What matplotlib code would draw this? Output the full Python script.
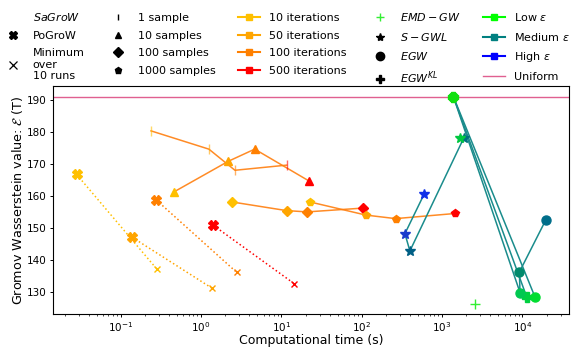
import matplotlib
matplotlib.use('Agg')
import matplotlib.pyplot as plt
from matplotlib.lines import Line2D

# PoGroW single run and minimum over 10 runs, one value per iteration count
iter_labels = ['10 iterations', '50 iterations', '100 iterations', '500 iterations']
pogrow_time = [0.0282, 0.138, 0.277, 1.42]
pogrow_gw = [166.8, 147.2, 158.8, 150.9]
min_time = [0.282, 1.38, 2.78, 14.4]
min_gw = [137.2, 131.2, 136.2, 132.7]

# SaGroW, one list per number of samples (10, 50, 100, 500 iterations)
sample_labels = ['1 sample', '10 samples', '100 samples', '1000 samples']
sag1_time = [0.238, 1.25, 2.64, 11.6]
sag1_gw = [180.4, 174.7, 168.1, 169.7]
sag10_time = [0.456, 2.18, 4.65, 21.9]
sag10_gw = [161.3, 170.9, 174.7, 164.8]
sag100_time = [2.43, 11.6, 21.0, 105]
sag100_gw = [158.2, 155.5, 155.1, 156.3]
sag1000_time = [22.7, 113, 264, 1452]
sag1000_gw = [158.2, 154.1, 153.0, 154.6]

# entropic methods
sgwl_time = [597, 345, 398, 1875, 1671]
sgwl_gw = [160.6, 148.3, 142.9, 178.3, 178.3]
egw_time = [1384, 9360, 9180, 19700]
egw_gw = [191.1, 129.9, 136.3, 152.7]
egw2_time = [1384, 14380]
egw2_gw = [191.1, 128.5]
egwkl_time = [1384, 11350]
egwkl_gw = [191.1, 128.5]
emd_time = [2573]
emd_gw = [126.2]
uniform_gw = 191.0

# styles
iter_colors = ['#ffc000', '#ffa500', '#ff8000', '#ff0000']
sample_markers = ['|', '^', 'D', 'p']
sample_ms = [7, 6, 5, 6]
sgwl_colors = ['#1030e8', '#1a3ccc', '#005f85', '#00707f', '#00c840']
egw_colors = ['#10e010', '#00c850', '#008a6c', '#006e8a']
egw2_colors = ['#10e010', '#00dd30']
egwkl_colors = ['#10e010', '#00d040']
eps_colors = ['#00ff00', '#008080', '#0000ff']
line_teal = '#1a8c8c'

fig = plt.figure(figsize=(5.76, 3.47), dpi=100)
ax = fig.add_axes([0.0915, 0.095, 0.8965, 0.657])

ax.axhline(uniform_gw, color='#e06090', lw=1.0, zorder=1)

# PoGroW -> min over runs
for i in range(4):
    ax.plot([pogrow_time[i], min_time[i]], [pogrow_gw[i], min_gw[i]], ':',
            color=iter_colors[i], lw=1.1, zorder=2)
    ax.plot(pogrow_time[i], pogrow_gw[i], 'X', color=iter_colors[i], ms=6.5, zorder=4)
    ax.plot(min_time[i], min_gw[i], 'x', color=iter_colors[i], ms=4.5, mew=1.0, zorder=4)

# SaGroW
sag_times = [sag1_time, sag10_time, sag100_time, sag1000_time]
sag_gws = [sag1_gw, sag10_gw, sag100_gw, sag1000_gw]
for t, g, m, s in zip(sag_times, sag_gws, sample_markers, sample_ms):
    ax.plot(t, g, '-', color='C1', lw=1.1, alpha=0.9, zorder=2)
    for i in range(4):
        if m == '|':
            ax.plot(t[i], g[i], m, color=iter_colors[i], ms=s, mew=1.0, alpha=0.6, zorder=3)
        else:
            ax.plot(t[i], g[i], m, color=iter_colors[i], ms=s, zorder=3)

# entropic
ax.plot(sgwl_time, sgwl_gw, '-', color=line_teal, lw=1.1, zorder=2)
for t, g, c in zip(sgwl_time, sgwl_gw, sgwl_colors):
    ax.plot(t, g, '*', color=c, ms=7, zorder=3)
for tt, gg, cc, m in [(egwkl_time, egwkl_gw, egwkl_colors, 'P'),
                      (egw2_time, egw2_gw, egw2_colors, 'o'),
                      (egw_time, egw_gw, egw_colors, 'o')]:
    ax.plot(tt, gg, '-', color=line_teal, lw=1.1, zorder=2)
    for t, g, c in zip(tt, gg, cc):
        ax.plot(t, g, m, color=c, ms=6.5, zorder=3)
ax.plot(emd_time, emd_gw, '+', color='#33ee33', ms=7, mew=1.0, zorder=3)

ax.set_xscale('log')
ax.set_xticks([1e-1, 1e0, 1e1, 1e2, 1e3, 1e4])
ax.set_xlim(0.0142, 38200)
ax.set_ylim(123.2, 194.4)
ax.set_yticks([130, 140, 150, 160, 170, 180, 190])
ax.tick_params(labelsize=7.5, pad=2, length=2.5, width=0.7)
ax.tick_params(which='minor', length=1.5, width=0.5)
ax.set_xlabel('Computational time (s)', fontsize=9, labelpad=0)
ax.set_ylabel(r'Gromov Wasserstein value: $\mathcal{E}$ (T)', fontsize=9.2, labelpad=1.5)

# legend
def blank():
    return Line2D([], [], ls='none', marker='')

handles = [blank(),
           Line2D([], [], ls='none', marker='X', color='k', ms=5.5),
           Line2D([], [], ls='none', marker='x', color='k', ms=6, mew=0.9),
           blank()]
labels = ['$SaGroW$', 'PoGroW', 'Minimum\nover\n10 runs', '']
for m, lab in zip(sample_markers, sample_labels):
    handles.append(Line2D([], [], ls='none', marker=m, color='k', ms=5))
    labels.append(lab)
for c, lab in zip(iter_colors, iter_labels):
    handles.append(Line2D([], [], color=c, marker='s', ms=5))
    labels.append(lab)
handles += [Line2D([], [], ls='none', marker='+', color='#33ee33', ms=6),
            Line2D([], [], ls='none', marker='*', color='k', ms=6),
            Line2D([], [], ls='none', marker='o', color='k', ms=6),
            Line2D([], [], ls='none', marker='P', color='k', ms=6)]
labels += ['$EMD-GW$', '$S-GWL$', '$EGW$', '$EGW^{KL}$']
for c, lab in zip(eps_colors, [r'Low $\varepsilon$', r'Medium $\varepsilon$', r'High $\varepsilon$']):
    handles.append(Line2D([], [], color=c, marker='s', ms=5))
    labels.append(lab)
handles.append(Line2D([], [], color='#e06090', lw=1.0))
labels.append('Uniform')

fig.legend(handles, labels, ncol=5, loc='upper center', bbox_to_anchor=(0.496, 0.997),
           frameon=False, fontsize=8, labelspacing=0.68)

fig.savefig('out.png', dpi=100)
